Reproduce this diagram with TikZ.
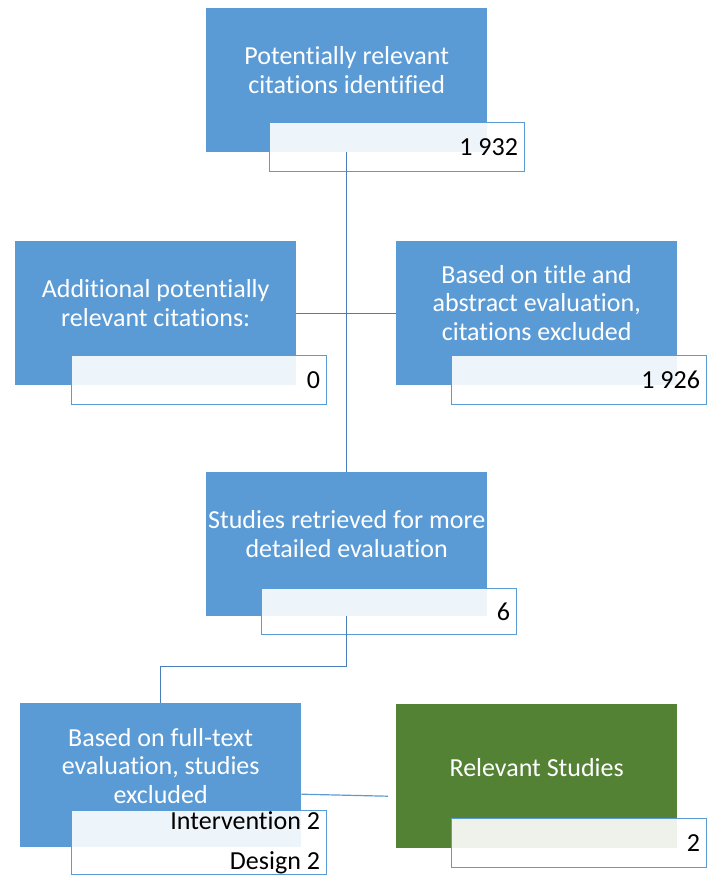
\documentclass[tikz,border=0pt]{standalone}
\usepackage{fontspec}
\setmainfont[Ligatures=NoCommon]{Carlito}
\usetikzlibrary{positioning}
\definecolor{boxblue}{HTML}{5B9BD5}
\definecolor{boxgreen}{HTML}{548235}
\definecolor{linkblue}{HTML}{4A7EBB}

\begin{document}
\begin{tikzpicture}[x=1pt,y=-1pt,
			mainbox/.style={
				fill=boxblue,
				anchor=north west,
				inner sep=0pt,
				minimum width=281pt,
				minimum height=144pt
			},
			boxtext/.style={
				text=white,
				align=center,
				inner sep=0pt,
				font=\fontsize{26}{28.5}\selectfont
			},
			countbox/.style={
				draw=boxblue,
				line width=1.2pt,
				fill=white,
				fill opacity=0.9,
				text opacity=1,
				anchor=north west,
				inner sep=0pt,
				minimum width=255pt,
				minimum height=49pt
			},
			counttext/.style={
				anchor=east,
				align=right,
				inner sep=0pt,
				font=\fontsize{26}{28.5}\selectfont
			},
			link/.style={draw=linkblue, line width=1.2pt}]
			
			\useasboundingbox (0,0) rectangle (709,883);
			
			\node[mainbox] (ident) at (206,8) {};
			\node[boxtext] (identtxt) at ([yshift=-62pt]ident.north) {Potentially relevant\\citations identified};
			
			\node[mainbox] (addl) at (15,241) {};
			\node[boxtext] (addltxt) at ([yshift=-62pt]addl.north) {Additional potentially\\relevant citations:};
			
			\node[mainbox] (excl) at (396,241) {};
			\node[boxtext] (excltxt) at ([yshift=-62pt]excl.north) {Based on title and\\abstract evaluation,\\citations excluded};
			
			\node[mainbox] (retr) at (206,472) {};
			\node[boxtext] (retrtxt) at ([yshift=-62pt]retr.north) {Studies retrieved for more\\detailed evaluation};
			
			\node[mainbox] (fullx) at (20,703) {};
			\node[boxtext] (fullxtxt) at ([yshift=-63pt]fullx.north) {Based on full-text\\evaluation, studies\\excluded};
			
			\node[mainbox, fill=boxgreen] (rel) at (396,704) {};
			\node[boxtext] (reltxt) at ([yshift=-64pt]rel.north) {Relevant Studies};
			
			% counts
			\node[countbox] (identnum) at ([shift={(63pt,-114pt)}]ident.north west) {};
			\node[counttext] at ([xshift=-7pt]identnum.east) {1 932};
			
			\node[countbox] (addlnum) at ([shift={(56pt,-114pt)}]addl.north west) {};
			\node[counttext] at ([xshift=-7pt]addlnum.east) {0};
			
			\node[countbox] (exclnum) at ([shift={(55pt,-114pt)}]excl.north west) {};
			\node[counttext] at ([xshift=-7pt]exclnum.east) {1 926};
			
			\node[countbox, minimum height=46pt] (retrnum) at ([shift={(55pt,-116pt)}]retr.north west) {};
			\node[counttext] at ([xshift=-7pt]retrnum.east) {6};
			
			\node[countbox, minimum height=64pt] (fullxnum) at ([shift={(51pt,-107pt)}]fullx.north west) {};
			\node[counttext, font=\fontsize{26}{40}\selectfont] at ([xshift=-7pt]fullxnum.east) {Intervention 2\\Design 2};
			
			\node[countbox] (relnum) at ([shift={(55pt,-114pt)}]rel.north west) {};
			\node[counttext] at ([xshift=-7pt]relnum.east) {2};
			
			\coordinate (relend) at ([shift={(-8pt,-20pt)}]rel.west);
			
			\draw[link](ident.south)--(retr.north);
			
			\draw[link](addl.east)--(excl.west);
			
			\draw[link](retr.south)--++(0,50)-|(fullx.north);
			
			\draw[link, draw=boxblue]([yshift=-19pt]fullx.east)--(relend);
			
		\end{tikzpicture}
\end{document}
